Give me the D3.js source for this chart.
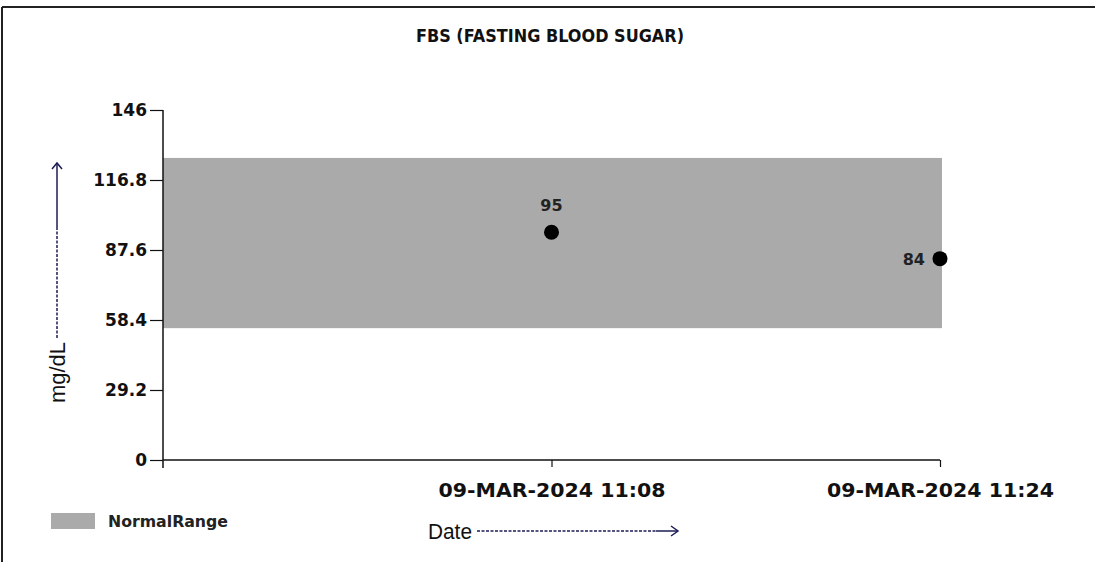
<!DOCTYPE html>
<html>
<head>
<meta charset="utf-8">
<script src="https://cdn.jsdelivr.net/npm/d3@7"></script>
<style>
  body { margin: 0; background: #fff; }
  text { font-family: "DejaVu Sans", Verdana, sans-serif; }
</style>
</head>
<body>
<div id="chart"></div>
<script>
const width = 1095;
const height = 562;

// data
const dates = ["09-MAR-2024 11:08", "09-MAR-2024 11:24"];
const values = [95, 84];
const normalRange = [55, 126];
const yTicks = [0, 29.2, 58.4, 87.6, 116.8, 146];

const svg = d3
  .select("#chart")
  .append("svg")
  .attr("width", width)
  .attr("height", height);

// frame
svg.append("line").attr("x1", 2).attr("y1", 7).attr("x2", width).attr("y2", 7)
  .attr("stroke", "#222").attr("stroke-width", 2);
svg.append("line").attr("x1", 2).attr("y1", 7).attr("x2", 2).attr("y2", height)
  .attr("stroke", "#222").attr("stroke-width", 2);

const x = d3.scaleLinear().domain([0, dates.length]).range([163, 940]);
const y = d3.scaleLinear().domain([0, 146]).range([460, 110]);

// title
svg
  .append("text")
  .attr("x", 550)
  .attr("y", 42)
  .attr("text-anchor", "middle")
  .attr("textLength", 268)
  .attr("lengthAdjust", "spacingAndGlyphs")
  .style("font-size", "17px")
  .style("font-weight", "bold")
  .attr("fill", "#111")
  .text("FBS (FASTING BLOOD SUGAR)");

// normal range band
svg
  .append("rect")
  .attr("x", x(0))
  .attr("y", y(normalRange[1]))
  .attr("width", x(dates.length) - x(0) + 2)
  .attr("height", y(normalRange[0]) - y(normalRange[1]))
  .attr("fill", "#aaaaaa");

// y axis
const yAxis = svg
  .append("g")
  .attr("transform", `translate(${x(0)},0)`)
  .call(d3.axisLeft(y).tickValues(yTicks).tickSize(13).tickPadding(3).tickFormat(d => d));
yAxis.select(".domain").attr("d", `M0,${y(146)}V${y(0) + 8}`).attr("stroke", "#111").attr("stroke-width", 1.5);
yAxis.selectAll(".tick line").attr("stroke", "#111").attr("stroke-width", 1.2);
yAxis.selectAll(".tick text")
  .style("font-size", "17px")
  .style("font-weight", "bold")
  .attr("fill", "#111");

// x axis
const xAxis = svg
  .append("g")
  .attr("transform", `translate(0,${y(0)})`)
  .call(
    d3.axisBottom(x)
      .tickValues(d3.range(1, dates.length + 1))
      .tickSize(7)
      .tickPadding(16)
      .tickFormat(d => dates[d - 1])
  );
xAxis.select(".domain").attr("d", `M${x(0)},0H${x(dates.length)}`).attr("stroke", "#111").attr("stroke-width", 1.5);
xAxis.selectAll(".tick line").attr("stroke", "#111").attr("stroke-width", 1.2);
xAxis.selectAll(".tick text")
  .style("font-size", "20px")
  .style("font-weight", "bold")
  .attr("textLength", 227)
  .attr("lengthAdjust", "spacingAndGlyphs")
  .attr("fill", "#111");

// points
const pts = values.map((v, i) => ({ i: i + 1, v }));
svg
  .selectAll("circle.pt")
  .data(pts)
  .enter()
  .append("circle")
  .attr("class", "pt")
  .attr("cx", d => x(d.i))
  .attr("cy", d => y(d.v))
  .attr("r", 7.5)
  .attr("fill", "#000");

svg
  .selectAll("text.val")
  .data(pts)
  .enter()
  .append("text")
  .attr("class", "val")
  .attr("x", d => (d.i === dates.length ? x(d.i) - 15 : x(d.i)))
  .attr("y", d => (d.i === dates.length ? y(d.v) + 6 : y(d.v) - 21))
  .attr("text-anchor", d => (d.i === dates.length ? "end" : "middle"))
  .style("font-size", "16px")
  .style("font-weight", "bold")
  .attr("fill", "#222")
  .text(d => d.v);

// x axis title: Date ---->
const navy = "#1c1c55";
svg
  .append("text")
  .attr("x", 428)
  .attr("y", 539)
  .attr("textLength", 44)
  .attr("lengthAdjust", "spacingAndGlyphs")
  .style("font-family", "'Liberation Sans', Arial, sans-serif")
  .style("font-size", "22px")
  .attr("fill", "#111")
  .text("Date");
svg.append("line").attr("x1", 477).attr("y1", 531).attr("x2", 656).attr("y2", 531)
  .attr("stroke", navy).attr("stroke-width", 1.5).attr("stroke-dasharray", "3,1.5");
svg.append("line").attr("x1", 656).attr("y1", 531).attr("x2", 677).attr("y2", 531)
  .attr("stroke", navy).attr("stroke-width", 1.5);
svg.append("path").attr("d", "M671,526L678,531L671,536")
  .attr("fill", "none").attr("stroke", navy).attr("stroke-width", 1.5);

// y axis title: mg/dL ---->
svg
  .append("text")
  .attr("transform", "translate(65,403) rotate(-90)")
  .attr("textLength", 61)
  .attr("lengthAdjust", "spacingAndGlyphs")
  .style("font-family", "'Liberation Sans', Arial, sans-serif")
  .style("font-size", "22px")
  .attr("fill", "#111")
  .text("mg/dL");
svg.append("line").attr("x1", 57).attr("y1", 338).attr("x2", 57).attr("y2", 228)
  .attr("stroke", navy).attr("stroke-width", 1.5).attr("stroke-dasharray", "3,1.5");
svg.append("line").attr("x1", 57).attr("y1", 228).attr("x2", 57).attr("y2", 164)
  .attr("stroke", navy).attr("stroke-width", 1.5);
svg.append("path").attr("d", "M52,169L57,163L62,169")
  .attr("fill", "none").attr("stroke", navy).attr("stroke-width", 1.5);

// legend
svg
  .append("rect")
  .attr("x", 51)
  .attr("y", 513)
  .attr("width", 44)
  .attr("height", 16)
  .attr("fill", "#aaaaaa");
svg
  .append("text")
  .attr("x", 108)
  .attr("y", 527)
  .attr("textLength", 120)
  .attr("lengthAdjust", "spacingAndGlyphs")
  .style("font-size", "16px")
  .style("font-weight", "bold")
  .attr("fill", "#222")
  .text("NormalRange");
</script>
</body>
</html>
